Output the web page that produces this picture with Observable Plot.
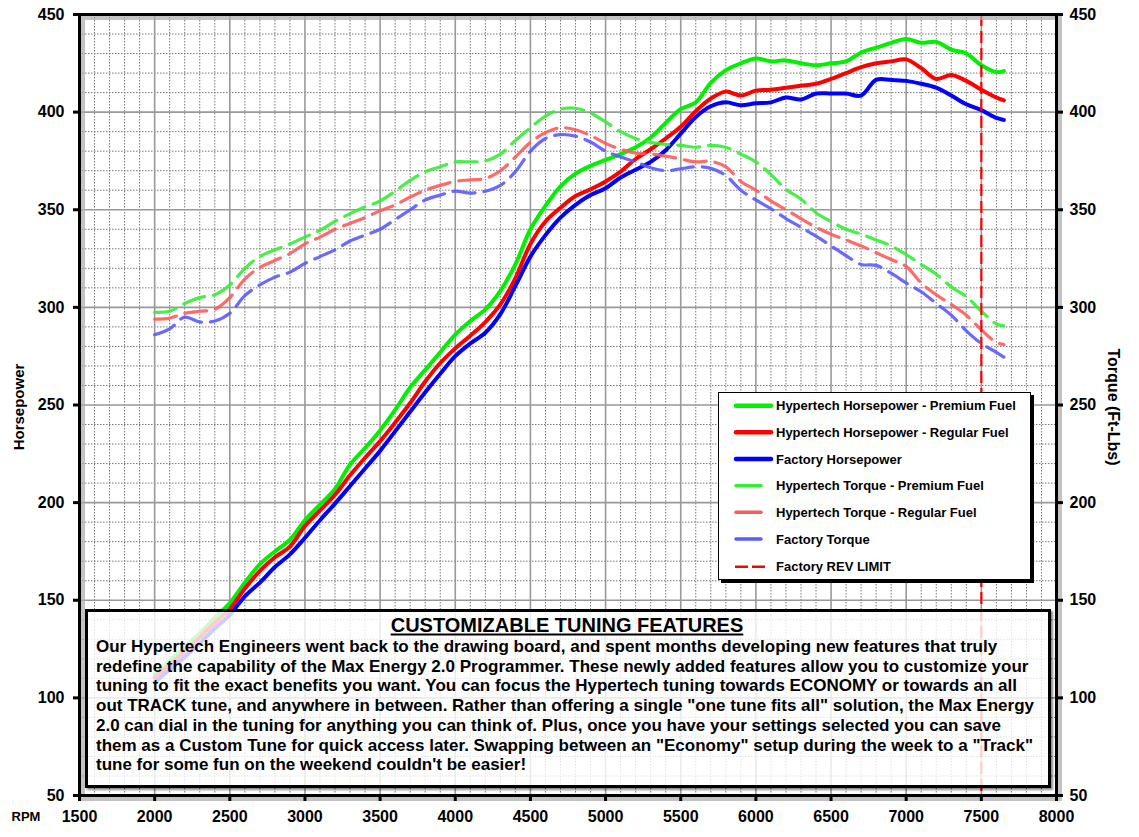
<!DOCTYPE html>
<html><head><meta charset="utf-8">
<script src="https://cdn.jsdelivr.net/npm/d3@7"></script>
<script src="https://cdn.jsdelivr.net/npm/@observablehq/plot@0.6"></script>
<style>
body{margin:0;background:#fff;font-family:"Liberation Sans",Arial,sans-serif;}
#wrap{position:relative;width:1139px;height:837px;overflow:hidden;background:#fff;}
#wrap svg{position:absolute;left:0;top:0;}
.abs{position:absolute;font-weight:bold;color:#000;white-space:nowrap;}
#box{position:absolute;left:85px;top:609px;width:966px;height:179px;box-sizing:border-box;border:3px solid #000;background:rgba(255,255,255,0.8);box-shadow:2px 2px 2px rgba(0,0,0,0.45);}
#legend{position:absolute;left:718px;top:392px;width:313px;height:188px;box-sizing:border-box;border:1.5px solid #000;background:#fff;box-shadow:3px 3px 0 #000;}
.lg{position:absolute;font-weight:bold;font-size:13px;line-height:15px;white-space:nowrap;}
</style></head><body><div id="wrap"></div>
<script>
// ---- data ----
const rpm = [2000,2100,2200,2300,2400,2500,2600,2700,2800,2900,
  3000,3100,3200,3300,3400,3500,3600,3700,3800,3900,
  4000,4100,4200,4300,4400,4500,4600,4700,4800,4900,
  5000,5100,5200,5300,5400,5500,5600,5700,5800,5900,
  6000,6100,6200,6300,6400,6500,6600,6700,6800,6900,
  7000,7100,7200,7300,7400,7500,7600,7650];
const hpPremium = [112,119,126,133,141,148.5,159,168.5,175,181,
  191,199,207,219.5,228,237,247.5,259,268,277,
  286,293,299,308.5,322,340,352,362,368.5,372.5,
  375.5,378.5,382,387,394.5,401.5,405,415,421.5,425,
  427.5,426,426.5,425,424,425,426,430.5,433,435.5,
  437.5,435.5,436,432,430,424,420.5,421];
const hpRegular = [110.5,117,124,131,138.5,145.5,156,165,172,177.5,
  188,196,204,214,223,231.5,241,251,262,271.5,
  279,285.5,292.5,301.5,315,332.5,344,351,357,360.5,
  364.5,369.5,376,381,386.5,392.5,400.5,407,410.5,408.5,
  411,411.5,412.5,413.5,414.5,417,420,423,425,426,
  427,422.5,417,419,416,411.5,407.5,406];
const hpFactory = [108,114.5,121,128,135.5,142.5,152,159,167,173.5,
  182,191,199.5,208.5,217.5,226.5,236.5,246.5,256.5,266,
  275,281.5,287,296.5,311,326,337,346,352.5,357.5,
  361,366.5,370.5,374.5,380.5,389,397.5,403,405,403.5,
  404.5,405,407.5,406.5,409.5,409.5,409.5,408.5,416.5,416.5,
  416,414.5,412.5,408.5,404,401,397,396];
const tqPremium = [297.5,298,302,305,306.5,311.5,320,326,329.5,332.5,
  336,339.5,344,348,351.5,354.5,359.5,365,369.5,372,
  374.5,374.5,375,378.5,385.5,392,398,401.5,402,399.5,
  395,390,386.5,384.5,383.5,383,382,383,382,378.5,
  374.5,368,360.5,355.5,348.5,344,340,337.5,334.5,331.5,
  327,322,317,310.5,305.5,298,291.5,290.5];
const tqRegular = [294,294.5,297,298,299,305,314.5,320.5,324,327.5,
  332.5,336,340,343,346,349.5,352.5,356.5,360,362.5,
  364.5,365.3,366,370,377,384.5,389.5,392,391,388,
  384,381,379,378.5,377.5,376,374.5,374.8,372,364.5,
  360,354.5,350,345.5,341,337.5,334.5,331.5,328,324.5,
  321,312.5,306.5,301.5,296,288.5,282,281];
const tqFactory = [286,289,295,292.5,293,297,306,311.5,315.5,318,
  322.5,326,329.5,334,337,340,345,350,355,357.5,
  359.5,358.5,359.5,362.5,369.5,380,386.5,388.5,387.7,384.7,
  380,377,374.5,371.5,370,371,372,371.2,367.5,360,
  355,350.5,345.5,341,336.5,331.5,326.5,322,321.5,317.5,
  312.5,308,302,296,288,281.5,277,274.5];
const revLimit = 7500;
const xTicks = [1500,2000,2500,3000,3500,4000,4500,5000,5500,6000,6500,7000,7500,8000];
const yTicks = [50,100,150,200,250,300,350,400,450];
const seriesNames = ["Hypertech Horsepower - Premium Fuel","Hypertech Horsepower - Regular Fuel","Factory Horsepower",
  "Hypertech Torque - Premium Fuel","Hypertech Torque - Regular Fuel","Factory Torque"];
const seriesValues = [hpPremium,hpRegular,hpFactory,tqPremium,tqRegular,tqFactory];
const seriesColors = ["#00f000","#ff0000","#0000ff","#33ee33","#ff5a5a","#5a5aff"];
const revLabel = "Factory REV LIMIT";
const noteTitle = "CUSTOMIZABLE TUNING FEATURES";
const noteLines = [
 "Our Hypertech Engineers went back to the drawing board, and spent months developing new features that truly",
 "redefine the capability of the Max Energy 2.0 Programmer. These newly added features allow you to customize your",
 "tuning to fit the exact benefits you want. You can focus the Hypertech tuning towards ECONOMY or towards an all",
 "out TRACK tune, and anywhere in between. Rather than offering a single \"one tune fits all\" solution, the Max Energy",
 "2.0 can dial in the tuning for anything you can think of. Plus, once you have your settings selected you can save",
 "them as a Custom Tune for quick access later. Swapping between an \"Economy\" setup during the week to a \"Track\"",
 "tune for some fun on the weekend couldn't be easier!"];

// ---- chart ----
const minorX = d3.range(1500, 8001, 100).filter(v => v % 500 !== 0);
const majorX = xTicks;
const minorY = d3.range(50, 451, 10).filter(v => v % 50 !== 0);
const majorY = yTicks;

const lineMarks = seriesValues.map((vals, k) => {
  const data = rpm.map((r, i) => ({rpm: r, v: vals[i]}));
  const torque = k >= 3;
  return Plot.line(data, {x: "rpm", y: "v", stroke: seriesColors[k], strokeWidth: torque ? 3.2 : 4,
    strokeOpacity: torque ? 0.9 : 1, strokeDasharray: torque ? "22,9" : null, curve: "catmull-rom"});
});

const chart = Plot.plot({
  width: 1139, height: 837,
  marginLeft: 79, marginRight: 83, marginTop: 14, marginBottom: 42,
  x: {domain: [1500, 8000]},
  y: {domain: [50, 450]},
  style: {fontFamily: "'Liberation Sans', Arial, sans-serif", fontSize: "16px", fontWeight: "bold", color: "#000", background: "transparent", overflow: "visible"},
  marks: [
    Plot.ruleX(minorX, {stroke: "#777", strokeDasharray: "1.5,1.5", strokeWidth: 1}),
    Plot.ruleY(minorY, {stroke: "#777", strokeDasharray: "1.5,1.5", strokeWidth: 1}),
    Plot.ruleX(majorX, {stroke: "#999", strokeWidth: 1.6}),
    Plot.ruleY(majorY, {stroke: "#999", strokeWidth: 1.6}),
    ...lineMarks,
    Plot.ruleX([revLimit], {stroke: "#ff0000", strokeWidth: 2.2, strokeDasharray: "12,5"}),
    Plot.frame({stroke: "#aaa", strokeWidth: 5, dx: 3, dy: 3, strokeOpacity: 0.7}),
    Plot.frame({stroke: "#000", strokeWidth: 3}),
    Plot.axisX({ticks: xTicks, tickSize: 6, tickPadding: 9, tickFormat: d => String(d), label: null, strokeWidth: 3}),
    Plot.axisY({anchor: "left", ticks: yTicks, tickSize: 6, tickPadding: 9, tickFormat: d => String(d), label: null, strokeWidth: 3}),
    Plot.axisY({anchor: "right", ticks: yTicks, tickSize: 6, tickPadding: 7, tickFormat: d => String(d), label: null, strokeWidth: 3})
  ]
});
const wrap = document.getElementById("wrap");
wrap.appendChild(chart);

function addDiv(html, css, cls) {
  const d = document.createElement("div");
  d.className = cls || "abs";
  d.innerHTML = html;
  Object.assign(d.style, css);
  wrap.appendChild(d);
  return d;
}
// axis titles
addDiv("Horsepower", {left: "18px", top: "407px", fontSize: "15px", transform: "translate(-50%,-50%) rotate(-90deg)"});
addDiv("Torque (Ft-Lbs)", {left: "1113px", top: "407px", fontSize: "16px", transform: "translate(-50%,-50%) rotate(90deg)"});
addDiv("RPM", {left: "26px", top: "816px", fontSize: "13px", transform: "translate(-50%,-50%)"});

// note box
const box = document.createElement("div"); box.id = "box"; wrap.appendChild(box);
addDiv(noteTitle, {left: "567px", top: "625px", fontSize: "20px", transform: "translate(-50%,-50%)", textDecoration: "underline", textDecorationThickness: "2px", textUnderlineOffset: "2px"});
addDiv(noteLines.join("<br>"), {left: "96px", top: "637px", fontSize: "17px", lineHeight: "19.7px"});

// legend
const leg = document.createElement("div"); leg.id = "legend"; wrap.appendChild(leg);
const rowY = [405.7, 432.3, 459, 485.7, 512.3, 539, 566.7];
const ns = "http://www.w3.org/2000/svg";
const lsvg = document.createElementNS(ns, "svg");
lsvg.setAttribute("width", 1139); lsvg.setAttribute("height", 837);
lsvg.style.position = "absolute"; lsvg.style.left = "0"; lsvg.style.top = "0"; lsvg.style.pointerEvents = "none";
wrap.appendChild(lsvg);
seriesNames.forEach((name, k) => {
  const torque = k >= 3;
  const ln = document.createElementNS(ns, "line");
  ln.setAttribute("x1", 736); ln.setAttribute("x2", torque ? 761 : 771);
  ln.setAttribute("y1", rowY[k]); ln.setAttribute("y2", rowY[k]);
  ln.setAttribute("stroke", seriesColors[k]); ln.setAttribute("stroke-width", torque ? 3.5 : 4.5);
  ln.setAttribute("stroke-linecap", "round");
  lsvg.appendChild(ln);
  addDiv(name, {left: "776px", top: (rowY[k] - 7.5) + "px"}, "lg");
});
const rl = document.createElementNS(ns, "line");
rl.setAttribute("x1", 735); rl.setAttribute("x2", 765); rl.setAttribute("y1", rowY[6]); rl.setAttribute("y2", rowY[6]);
rl.setAttribute("stroke", "#ff0000"); rl.setAttribute("stroke-width", 2.5); rl.setAttribute("stroke-dasharray", "13,4");
lsvg.appendChild(rl);
addDiv(revLabel, {left: "776px", top: (rowY[6] - 7.5) + "px"}, "lg");
</script></body></html>
